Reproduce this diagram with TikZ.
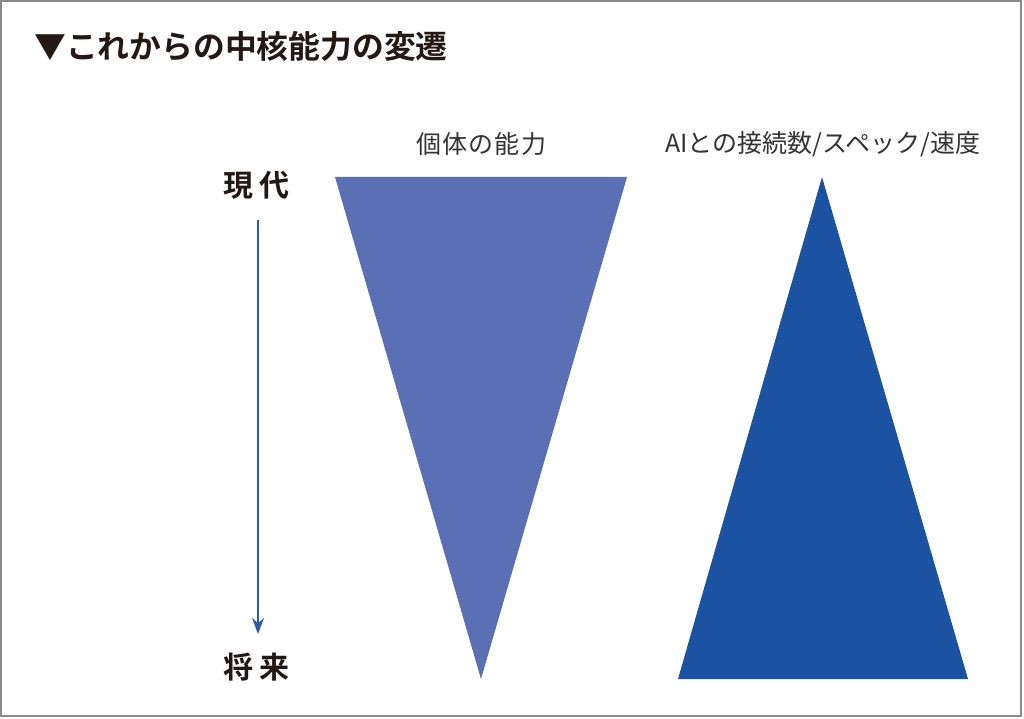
\documentclass[tikz,border=0pt]{standalone}
\usepackage{fontspec}
\usetikzlibrary{arrows.meta}
\newfontfamily\jp{Noto Sans CJK JP}[BoldFont={Noto Sans CJK JP Bold}]
\definecolor{framegray}{HTML}{8A8A8A}
\definecolor{titleblack}{HTML}{231815}
\definecolor{selfblue}{HTML}{5A6FB4}
\definecolor{aiblue}{HTML}{1B52A2}
\definecolor{timeblue}{HTML}{2C5BAA}
\tikzset{
  titletext/.style={anchor=west, inner sep=0pt, text=titleblack, font=\jp\bfseries\fontsize{31.8}{32}\selectfont},
  headtext/.style={inner sep=0pt, text=black!80, font=\jp\fontsize{25}{25}\selectfont},
  timetext/.style={inner sep=0pt, text=titleblack, font=\jp\bfseries\fontsize{30}{30}\selectfont},
}
\begin{document}
\begin{tikzpicture}[x=1pt,y=-1pt]
      \useasboundingbox (0,0) rectangle (1024,719);
      \draw[framegray, line width=1.5pt] (1,1) rectangle (1021,716);
      \draw
        (34,46) node[titletext] (title){▼これからの中核能力の変遷}
        (481,144) node[headtext] (self){\addfontfeature{LetterSpace=5}個体の能力}
        (823,144) node[headtext] (ai){AIとの接続数/スペック/速度}
        (256,185) node[timetext] (now){現\hspace{6pt}代}
        (256,667) node[timetext] (future){将\hspace{6pt}来};
      \coordinate (from) at (258,220);
      \coordinate (to) at (258,634);
      \begin{scope}[draw=none]
        \fill[selfblue] (335,177) -- (627,177) -- (481,679) -- cycle;
        \fill[aiblue] (822,177) -- (968,679) -- (678,679) -- cycle;
      \end{scope}
      \draw[timeblue, line width=2pt, -{Stealth[length=16pt,width=12pt]}] (from) -- (to);
    \end{tikzpicture}
\end{document}
